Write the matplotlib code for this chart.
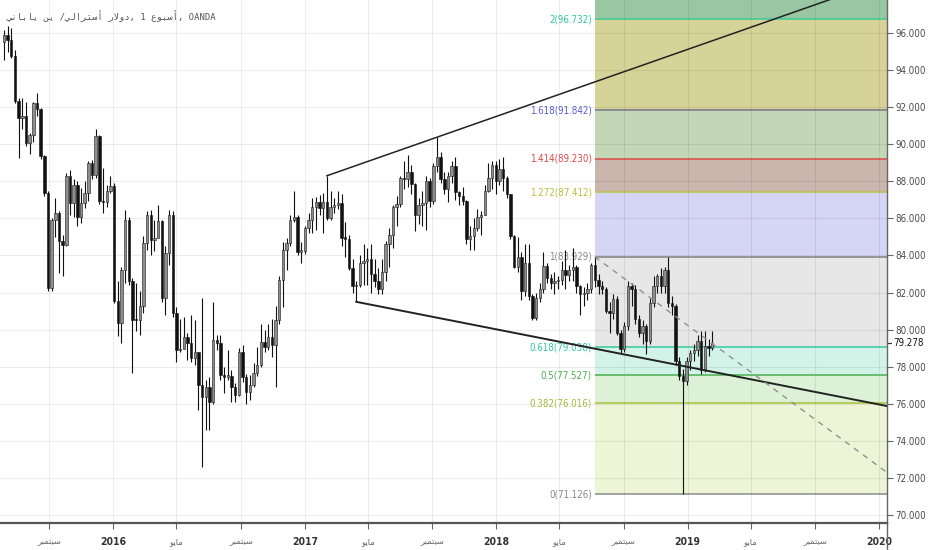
import numpy as np
import pandas as pd
import matplotlib
matplotlib.use("Agg")
import matplotlib.pyplot as plt
import matplotlib.dates as mdates
from matplotlib.transforms import offset_copy, blended_transform_factory
from matplotlib import font_manager as fm

# ---------------- data ----------------
first_open = 95.5
close = [95.9, 95.6, 94.74, 92.31, 91.41, 91.5, 90.06, 90.51, 92.22, 91.9,
         89.35, 87.37, 82.24, 85.93, 86.29, 84.76, 84.58, 88.27, 86.83, 87.82,
         86.1, 86.83, 87.37, 88.99, 88.36, 90.42, 86.92, 86.86, 87.46, 87.73,
         81.52, 80.35, 83.23, 85.93, 82.6, 80.53, 80.5, 81.25, 84.67, 86.2,
         84.85, 84.94, 85.84, 81.7, 84.13, 86.2, 80.89, 78.91, 78.97, 79.62,
         79.26, 78.45, 78.8, 77.0, 76.38, 76.92, 76.1, 79.44, 79.3, 77.55,
         77.46, 77.5, 76.92, 76.47, 78.8, 77.46, 76.65, 77.0, 77.64, 78.09,
         79.35, 79.08, 79.62, 79.17, 80.51, 82.67, 84.29, 84.65, 85.91, 86.09,
         84.2, 84.25, 85.46, 85.91, 86.63, 86.9, 86.54, 86.9, 86.0, 86.63,
         86.72, 86.81, 84.92, 84.9, 83.35, 82.36, 82.4, 83.6, 83.7, 83.8,
         83.0, 82.6, 82.2, 83.1, 84.6, 85.1, 86.6, 86.75, 88.2, 88.1,
         88.5, 87.85, 86.2, 86.7, 86.85, 88.0, 86.95, 88.8, 89.3, 88.1,
         87.6, 88.3, 88.8, 87.4, 87.2, 86.95, 84.9, 85.05, 85.5, 86.1,
         86.2, 87.5, 88.2, 88.9, 88.0, 88.65, 88.2, 87.3, 85.05, 83.4,
         83.9, 82.08, 83.6, 81.8, 80.64, 81.7, 82.17, 83.42, 82.8, 82.53,
         82.6, 82.7, 83.24, 82.97, 83.2, 83.4, 82.35, 81.9, 82.0, 82.17,
         83.51, 82.7, 82.35, 82.17, 81.0, 80.9, 81.63, 79.83, 78.93, 80.19,
         82.35, 82.2, 80.55, 79.83, 80.19, 79.38, 81.45, 82.35, 82.88, 82.35,
         83.24, 81.45, 81.27, 78.3, 77.5, 77.25, 78.29, 78.74, 78.92, 79.37,
         77.84, 79.1, 79.0, 79.278]
high = [96.18, 96.36, 96.27, 95.1, 92.5, 92.5, 92.3, 90.6, 92.3, 92.76,
        91.95, 89.4, 87.5, 86.0, 87.1, 86.4, 85.1, 88.45, 88.6, 88.1,
        88.0, 87.64, 88.0, 89.07, 89.17, 90.8, 90.5, 88.7, 87.8, 88.27,
        87.9, 82.6, 83.4, 86.47, 86.1, 82.8, 82.5, 82.06, 85.03, 86.38,
        86.47, 85.93, 86.74, 85.93, 84.5, 86.47, 86.38, 81.2, 80.6, 80.69,
        79.8, 80.8, 80.5, 78.8, 81.68, 77.28, 77.46, 81.5, 79.7, 79.7,
        78.0, 78.9, 77.8, 77.1, 79.0, 79.17, 77.6, 77.55, 78.2, 79.08,
        80.33, 80.0, 80.33, 80.6, 81.3, 82.9, 84.74, 84.92, 86.18, 87.5,
        86.18, 84.74, 85.6, 86.27, 87.1, 87.18, 87.27, 87.35, 88.3, 87.5,
        87.1, 87.5, 87.3, 85.8, 85.1, 83.8, 82.6, 84.0, 84.6, 84.4,
        84.6, 83.8, 83.3, 83.8, 84.8, 85.5, 86.7, 87.2, 88.3, 89.1,
        89.4, 88.9, 87.9, 87.1, 87.5, 88.3, 88.2, 89.0, 90.38, 89.6,
        88.5, 88.5, 89.1, 89.3, 87.5, 87.7, 87.0, 85.6, 86.0, 86.5,
        86.4, 87.8, 89.0, 89.1, 89.1, 89.2, 89.3, 88.3, 87.2, 85.1,
        85.0, 84.2, 84.6, 84.6, 81.9, 82.0, 82.5, 84.2, 83.6, 83.0,
        83.1, 82.9, 83.7, 84.3, 83.5, 84.4, 83.5, 82.4, 82.3, 82.5,
        83.6, 83.93, 83.0, 82.6, 82.3, 81.5, 81.9, 81.8, 80.0, 80.4,
        82.6, 82.5, 82.4, 80.8, 80.5, 80.3, 81.7, 82.9, 83.0, 83.3,
        83.4, 83.93, 81.8, 81.4, 78.5, 77.9, 78.5, 78.9, 79.2, 79.7,
        79.9, 79.9, 79.5, 79.9]
low = [94.56, 95.0, 94.65, 92.2, 89.25, 90.8, 89.9, 89.5, 90.1, 91.5,
       89.2, 87.2, 82.1, 82.1, 85.0, 83.05, 82.9, 84.5, 86.2, 86.1,
       85.57, 85.75, 86.56, 86.92, 88.1, 88.2, 86.8, 86.3, 86.6, 87.37,
       81.43, 79.63, 79.27, 82.5, 82.4, 77.65, 79.9, 79.7, 80.9, 84.3,
       84.04, 84.22, 85.2, 81.5, 80.8, 83.5, 80.7, 78.27, 78.8, 78.99,
       78.36, 78.27, 78.09, 75.66, 72.6, 74.6, 74.6, 76.0, 78.9, 77.3,
       76.6, 77.3, 76.1, 76.1, 76.4, 77.2, 76.0, 76.2, 76.9, 77.5,
       78.0, 78.8, 78.9, 78.5, 76.9, 80.3, 81.23, 83.21, 84.5, 85.8,
       84.02, 83.6, 84.1, 85.2, 85.2, 85.38, 86.2, 85.2, 85.9, 85.9,
       86.3, 86.5, 84.5, 83.9, 83.2, 82.0, 81.5, 82.3, 82.4, 82.4,
       82.0, 82.3, 81.9, 81.9, 82.6, 83.4, 84.4, 85.6, 86.6, 87.6,
       87.7, 87.3, 85.3, 85.7, 85.6, 85.4, 86.6, 86.8, 88.5, 87.9,
       87.3, 86.9, 87.9, 87.0, 86.7, 86.7, 84.6, 84.3, 84.3, 85.3,
       85.1, 86.2, 87.4, 87.6, 87.3, 87.8, 87.5, 87.1, 84.9, 83.3,
       83.1, 81.6, 81.8, 81.6, 80.5, 80.5, 81.5, 82.0, 82.5, 82.2,
       81.9, 82.2, 82.4, 82.2, 82.6, 82.6, 82.0, 80.8, 81.3, 81.6,
       82.0, 82.3, 81.9, 81.9, 80.9, 79.8, 80.6, 79.7, 78.7, 78.8,
       80.0, 81.3, 80.3, 79.6, 79.2, 78.7, 79.2, 81.2, 82.0, 82.0,
       82.0, 81.2, 80.8, 78.1, 77.3, 71.126, 77.0, 77.8, 78.3, 78.6,
       77.6, 77.7, 78.6, 78.9]
first_week = "2015-06-07"

fib_ratios = ["0", "0.382", "0.5", "0.618", "1", "1.272", "1.414", "1.618", "2"]
fib_prices = [71.126, 76.016, 77.527, 79.038, 83.929, 87.412, 89.230, 91.842, 96.732]
fib_start_bar = 161
last_price = 79.278

upper_trend_bars = [88, 118]
lower_trend_start_bar = 96
lower_trend_end = ("2020-01-16", 75.88)
dash_trend_end = ("2020-01-14", 72.34)

title_chunks = ["دولار أسترالي/ ين ياباني", "1 أسبوع", "OANDA"]
month_names = {9: "سبتمبر", 5: "مايو"}
tick_dates = ["2015-09-01", "2016-01-01", "2016-05-01", "2016-09-01", "2017-01-01",
              "2017-05-01", "2017-09-01", "2018-01-01", "2018-05-01", "2018-09-01",
              "2019-01-01", "2019-05-01", "2019-09-01", "2020-01-01"]
price_ticks = list(range(70, 97, 2))

# ---------------- Arabic shaping (presentation forms) ----------------
FORMS = {
    "\u0627": ("\uFE8D", "\uFE8E", None, None),
    "\u0623": ("\uFE83", "\uFE84", None, None),
    "\u0628": ("\uFE8F", "\uFE90", "\uFE91", "\uFE92"),
    "\u062A": ("\uFE95", "\uFE96", "\uFE97", "\uFE98"),
    "\u062F": ("\uFEA9", "\uFEAA", None, None),
    "\u0631": ("\uFEAD", "\uFEAE", None, None),
    "\u0633": ("\uFEB1", "\uFEB2", "\uFEB3", "\uFEB4"),
    "\u0639": ("\uFEC9", "\uFECA", "\uFECB", "\uFECC"),
    "\u0644": ("\uFEDD", "\uFEDE", "\uFEDF", "\uFEE0"),
    "\u0645": ("\uFEE1", "\uFEE2", "\uFEE3", "\uFEE4"),
    "\u0646": ("\uFEE5", "\uFEE6", "\uFEE7", "\uFEE8"),
    "\u0648": ("\uFEED", "\uFEEE", None, None),
    "\u064A": ("\uFEF1", "\uFEF2", "\uFEF3", "\uFEF4"),
}
LAM_ALEF = {"\u0627": ("\uFEFB", "\uFEFC"), "\u0623": ("\uFEF7", "\uFEF8")}


def shape(s):
    units, i = [], 0
    while i < len(s):
        c = s[i]
        if c == "\u0644" and i + 1 < len(s) and s[i + 1] in LAM_ALEF:
            units.append(("LA", s[i + 1]))
            i += 2
        else:
            units.append(("C", c))
            i += 1

    def is_ar(u):
        return u[0] == "LA" or u[1] in FORMS

    def dual(u):
        return u[0] == "C" and u[1] in FORMS and FORMS[u[1]][2] is not None

    out = []
    for j, u in enumerate(units):
        if not is_ar(u):
            out.append(u[1])
            continue
        pj = j > 0 and dual(units[j - 1])
        nj = j + 1 < len(units) and is_ar(units[j + 1])
        if u[0] == "LA":
            out.append(LAM_ALEF[u[1]][1 if pj else 0])
            continue
        f = FORMS[u[1]]
        cl = f[2] is not None
        if pj and nj and cl:
            out.append(f[3])
        elif pj:
            out.append(f[1])
        elif nj and cl:
            out.append(f[2])
        else:
            out.append(f[0])
    return "".join(out)


def rtl(s):
    return shape(s)[::-1]


def vis_chunk(s):
    if any(ch in FORMS for ch in s):
        if s[0].isdigit():
            head, rest = s.split(" ", 1)
            return head + " " + rtl(rest)
        return rtl(s)
    return s


# ---------------- figure ----------------
W, H = 932, 550
fig = plt.figure(figsize=(W / 100, H / 100), dpi=100)
ax = fig.add_axes([0, 27 / H, 887 / W, 523 / H])
fig.patch.set_facecolor("white")

names = {f.name for f in fm.fontManager.ttflist}
if "Liberation Sans Narrow" in names:
    num_font = dict(family="Liberation Sans Narrow", size=8.3)
else:
    num_font = dict(family="DejaVu Sans", stretch="condensed", size=7.0)

ref = mdates.date2num(pd.Timestamp("2016-01-01"))
ppd = 766 / 1461.0
x0 = ref - 113 / ppd
x1 = ref + (887 - 113) / ppd
ax.set_xlim(x0, x1)
ax.set_ylim(69.57, 97.78)

dates = pd.date_range(first_week, periods=len(close), freq="7D")
x = mdates.date2num(dates)
c = np.array(close)
o = np.r_[first_open, c[:-1]]
h = np.maximum.reduce([np.array(high), o, c])
l = np.minimum.reduce([np.array(low), o, c])
up = c >= o

# fib bands
fx0 = x[fib_start_bar]
band_cols = ["#eef4d6", "#ddf1d7", "#d3f3e9", "#e7e7e7", "#d5d5f5",
             "#cab6ad", "#c3d7b6", "#d6d398"]
for k in range(len(fib_prices) - 1):
    ax.fill_between([fx0, x1], fib_prices[k], fib_prices[k + 1],
                    color=band_cols[k], lw=0, zorder=0.5)
ax.fill_between([fx0, x1], fib_prices[-1], 100, color="#98c7a1", lw=0, zorder=0.5)

line_cols = ["#8a8a8a", "#a9c23c", "#4caf50", "#35c9a2", "#808080",
             "#b9c445", "#e04848", "#777788", "#3cc99a"]
lab_cols = ["#8a8a8a", "#a5b83a", "#4caf50", "#35c9a2", "#8a8a8a",
            "#b3c23a", "#e04848", "#5c5cd6", "#2ec79a"]
lab_tr = offset_copy(ax.transData, fig=fig, x=-3, y=0, units="dots")
for r, p, lc, tc in zip(fib_ratios, fib_prices, line_cols, lab_cols):
    ax.hlines(p, fx0, x1, color=lc, lw=1.1, zorder=2)
    ax.text(fx0, p, f"{r}({p:.3f})", transform=lab_tr, ha="right", va="center",
            color=tc, zorder=2.5, **num_font)

# grid
tick_nums = mdates.date2num(pd.to_datetime(tick_dates))
for yv in price_ticks:
    ax.axhline(yv, color="black", alpha=0.075, lw=0.8, zorder=1)
for xv in tick_nums:
    ax.axvline(xv, color="black", alpha=0.075, lw=0.8, zorder=1)

# candles
ax.vlines(x, l, h, color="#111111", lw=0.8, zorder=3)
bw = 4.6
body = np.maximum(np.abs(c - o), 0.07)
bot = np.minimum(o, c)
ax.bar(x[up], body[up], bottom=bot[up], width=bw, color="#8e8e8e",
       edgecolor="#1a1a1a", linewidth=0.4, zorder=4)
ax.bar(x[~up], body[~up], bottom=bot[~up], width=bw, color="#111111",
       edgecolor="#111111", linewidth=0.4, zorder=4)

# trend lines
ux = [x[upper_trend_bars[0]], x[upper_trend_bars[1]]]
uy = [h[upper_trend_bars[0]], h[upper_trend_bars[1]]]
slope = (uy[1] - uy[0]) / (ux[1] - ux[0])
ax.plot([ux[0], x1], [uy[0], uy[0] + slope * (x1 - ux[0])], color="#222", lw=1.1, zorder=5)

lx1 = mdates.date2num(pd.Timestamp(lower_trend_end[0]))
ax.plot([x[lower_trend_start_bar], lx1], [l[lower_trend_start_bar], lower_trend_end[1]],
        color="#222", lw=1.4, zorder=5)

dx1 = mdates.date2num(pd.Timestamp(dash_trend_end[0]))
ax.plot([fx0, dx1], [fib_prices[4], dash_trend_end[1]], color="#909090", lw=1.0,
        ls=(0, (4, 4)), zorder=5)

# axes styling
for s in ["top", "left"]:
    ax.spines[s].set_visible(False)
ax.spines["right"].set_color("#666")
ax.spines["right"].set_linewidth(1.0)
ax.spines["bottom"].set_color("#555")
ax.spines["bottom"].set_linewidth(1.6)
ax.plot([1, 1], [0, -27 / 523], transform=ax.transAxes, color="#666", lw=1.0, clip_on=False)

ax.yaxis.tick_right()
ax.set_yticks(price_ticks)
ax.set_yticklabels([f"{v:.3f}" for v in price_ticks])
ax.tick_params(axis="y", length=4, width=0.8, color="#666", pad=2, labelcolor="#4a4a4a")
for t in ax.get_yticklabels():
    t.set_fontfamily(num_font["family"])
    t.set_fontsize(num_font["size"])
    if "stretch" in num_font:
        t.set_fontstretch(num_font["stretch"])

ax.set_xticks(tick_nums)
xl = []
for d in pd.to_datetime(tick_dates):
    xl.append(str(d.year) if d.month == 1 else rtl(month_names[d.month]))
ax.set_xticklabels(xl)
ax.tick_params(axis="x", length=4, width=0.8, color="#666", pad=6)
for d, t in zip(pd.to_datetime(tick_dates), ax.get_xticklabels()):
    if d.month == 1:
        t.set_fontfamily(num_font["family"])
        t.set_fontsize(num_font["size"] + 0.5)
        t.set_fontweight("bold")
        t.set_color("#333")
        if "stretch" in num_font:
            t.set_fontstretch(num_font["stretch"])
    else:
        t.set_fontfamily("DejaVu Sans")
        t.set_fontsize(6)
        t.set_color("#666")

# last price label
btr = blended_transform_factory(ax.transAxes, ax.transData)
ax.plot([1, 1.0045], [last_price, last_price], transform=btr, color="#333", lw=0.9, clip_on=False)
ax.text(1.0075, last_price, f"{last_price:.3f}", transform=btr, ha="left", va="center",
        color="#111", zorder=7, clip_on=False,
        bbox=dict(boxstyle="square,pad=0.15", fc="white", ec="none"), **num_font)

# title
title = ", ".join(vis_chunk(ch) for ch in title_chunks)
ax.text(6 / 887, 1 - 16 / 523, title, transform=ax.transAxes, ha="left", va="center",
        fontsize=6.4, color="#555", family=["DejaVu Sans Mono", "DejaVu Sans"], zorder=7)

fig.savefig("out.png", dpi=100, facecolor="white")
